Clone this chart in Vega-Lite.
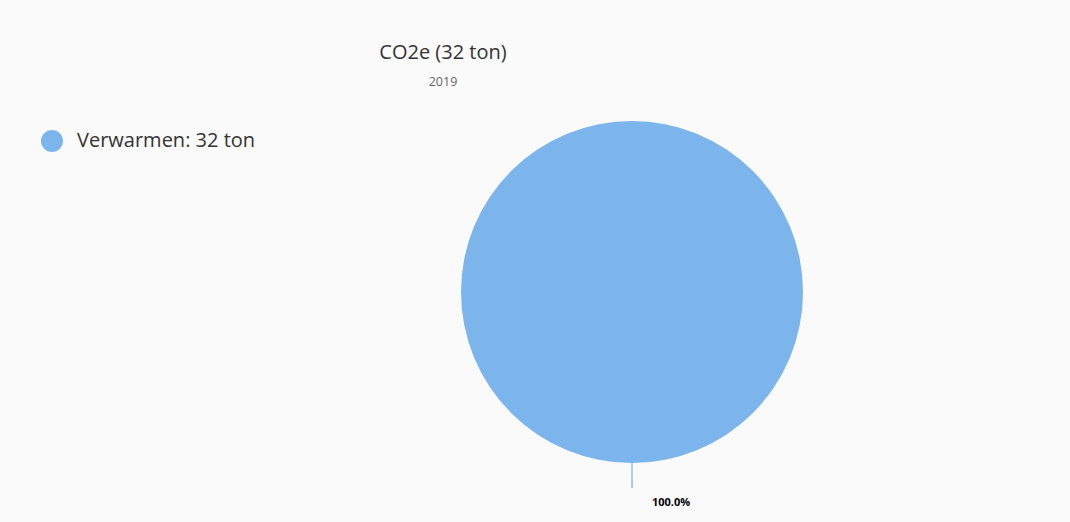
{
  "$schema": "https://vega.github.io/schema/vega-lite/v6.json",
  "autosize": {"type": "none"},
  "width": 600,
  "height": 364,
  "padding": {"left": 332, "top": 110, "right": 138, "bottom": 48},
  "background": "#fafafa",
  "config": {"font": "Open Sans", "view": {"stroke": null}},
  "title": {
    "text": "CO2e (32 ton)",
    "subtitle": "2019",
    "anchor": "middle",
    "frame": "group",
    "dx": -189,
    "offset": 22,
    "fontSize": 20,
    "fontWeight": "normal",
    "color": "#333333",
    "subtitleFontSize": 12.5,
    "subtitleColor": "#666666",
    "subtitlePadding": 13
  },
  "data": {"values": [{"category": "Verwarmen", "ton": 32, "share": 1.0}]},
  "layer": [
    {
      "mark": {"type": "arc", "radius": 171},
      "encoding": {
        "theta": {"field": "ton", "type": "quantitative", "stack": true},
        "color": {
          "field": "category",
          "type": "nominal",
          "scale": {"range": ["#7cb5ec"]},
          "legend": {
            "orient": "none",
            "legendX": -291,
            "legendY": 20,
            "title": null,
            "symbolType": "circle",
            "symbolSize": 484,
            "symbolStrokeWidth": 0,
            "labelFontSize": 20,
            "labelColor": "#333333",
            "labelOffset": 14,
            "labelLimit": 400,
            "labelExpr": "datum.label + ': 32 ton'",
            "padding": 0
          }
        }
      }
    },
    {
      "mark": {"type": "arc", "radius": 196, "radius2": 171, "color": "#7cb5ec"},
      "encoding": {
        "theta": {"field": "ton", "type": "quantitative", "stack": true, "scale": {"range": [3.138, 3.145]}}
      }
    },
    {
      "mark": {"type": "text", "radius": 211, "align": "left", "dx": 20, "fontSize": 11, "fontWeight": "bold", "color": "#000000"},
      "encoding": {
        "theta": {"field": "ton", "type": "quantitative", "stack": true},
        "text": {"field": "share", "type": "quantitative", "format": ".1%"}
      }
    }
  ],
  "resolve": {"scale": {"theta": "independent"}}
}
